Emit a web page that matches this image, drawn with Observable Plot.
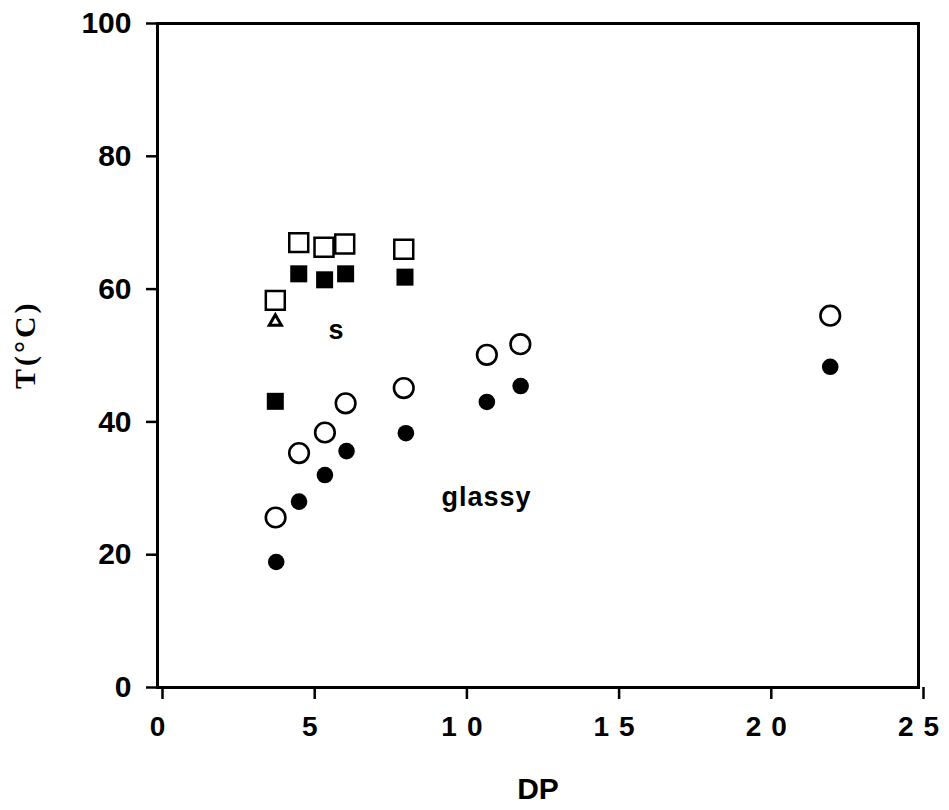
<!DOCTYPE html>
<html>
<head>
<meta charset="utf-8">
<script src="https://cdn.jsdelivr.net/npm/d3@7"></script>
<script src="https://cdn.jsdelivr.net/npm/@observablehq/plot@0.6"></script>
<style>
  html, body { margin: 0; padding: 0; background: #fff; }
  #chart svg { display: block; }
  .xlab text { letter-spacing: 10px; }
  .ylab text { letter-spacing: 3px; }
  .regionlab text { letter-spacing: 1px; }
</style>
</head>
<body>
<div id="chart"></div>
<script>
// Open squares
const dpOpenSquare = [3.87, 4.64, 5.47, 6.15, 8.09];
const tOpenSquare  = [58.3, 67.0, 66.3, 66.8, 66.0];
// Filled squares
const dpFilledSquare = [3.87, 4.64, 5.49, 6.18, 8.13];
const tFilledSquare  = [43.1, 62.3, 61.4, 62.3, 61.8];
// Open triangle
const dpTriangle = [3.87];
const tTriangle  = [55.1];
// Open circles
const dpOpenCircle = [3.88, 4.65, 5.50, 6.18, 8.09, 10.82, 11.92, 22.1];
const tOpenCircle  = [25.6, 35.3, 38.4, 42.8, 45.1, 50.1, 51.7, 56.0];
// Filled circles
const dpFilledCircle = [3.90, 4.65, 5.50, 6.21, 8.16, 10.82, 11.93, 22.1];
const tFilledCircle  = [18.9, 28.0, 32.0, 35.6, 38.3, 43.0, 45.4, 48.3];
// Region labels
const regionLabels = ["s", "glassy"];
const regionDP = [5.88, 10.81];
const regionT = [53.8, 28.7];
// Axis ticks
const xTicks = [0, 5, 10, 15, 20, 25];
const yTicks = [0, 20, 40, 60, 80, 100];
const xLabel = "DP";
const yLabel = "T(°C)";

const zip = (xs, ys) => xs.map((x, i) => ({dp: x, t: ys[i]}));
const openSq = zip(dpOpenSquare, tOpenSquare);
const fillSq = zip(dpFilledSquare, tFilledSquare);
const tri = zip(dpTriangle, tTriangle);
const openC = zip(dpOpenCircle, tOpenCircle);
const fillC = zip(dpFilledCircle, tFilledCircle);
const regions = regionLabels.map((s, i) => ({label: s, dp: regionDP[i], t: regionT[i]}));

const chart = Plot.plot({
  width: 949,
  height: 810,
  marginLeft: 157,
  marginRight: 31,
  marginTop: 23,
  marginBottom: 123,
  style: {fontFamily: "'Liberation Sans', Arial, sans-serif", fontWeight: "bold", color: "#000", background: "#fff"},
  x: {domain: [0, 25]},
  y: {domain: [0, 100]},
  marks: [
    Plot.frame({stroke: "#000", strokeWidth: 3}),
    Plot.axisX({ticks: xTicks, tickSize: 12, tickPadding: 17, strokeWidth: 2.5, fontSize: 28, fontWeight: "bold", dx: 5, label: null, className: "xlab"}),
    Plot.axisY({ticks: yTicks, tickSize: 11, tickPadding: 15, strokeWidth: 2.5, fontSize: 30, fontWeight: "bold", label: null}),
    Plot.text([xLabel], {frameAnchor: "bottom", lineAnchor: "middle", dy: 102, fontSize: 30, fontWeight: "bold", fill: "#000"}),
    Plot.text([yLabel], {frameAnchor: "left", lineAnchor: "middle", dx: -132, dy: 33.6, rotate: -90, fontSize: 30, fontWeight: "bold", fontFamily: "'Liberation Serif', 'Times New Roman', serif", fill: "#000", className: "ylab"}),
    Plot.dot(openSq, {x: "dp", y: "t", symbol: "square", r: 10.7, stroke: "#000", strokeWidth: 2.5, fill: "#fff"}),
    Plot.dot(fillSq, {x: "dp", y: "t", symbol: "square", r: 9.6, fill: "#000", stroke: "none"}),
    Plot.dot(tri, {x: "dp", y: "t", symbol: "triangle", r: 4.5, stroke: "#000", strokeWidth: 3, fill: "#fff"}),
    Plot.dot(openC, {x: "dp", y: "t", symbol: "circle", r: 9.8, stroke: "#000", strokeWidth: 2.6, fill: "#fff"}),
    Plot.dot(fillC, {x: "dp", y: "t", symbol: "circle", r: 8.3, fill: "#000", stroke: "none"}),
    Plot.text(regions, {x: "dp", y: "t", text: "label", fontSize: 27, fontWeight: "bold", fill: "#000", className: "regionlab"})
  ]
});
document.getElementById("chart").appendChild(chart);
</script>
</body>
</html>
